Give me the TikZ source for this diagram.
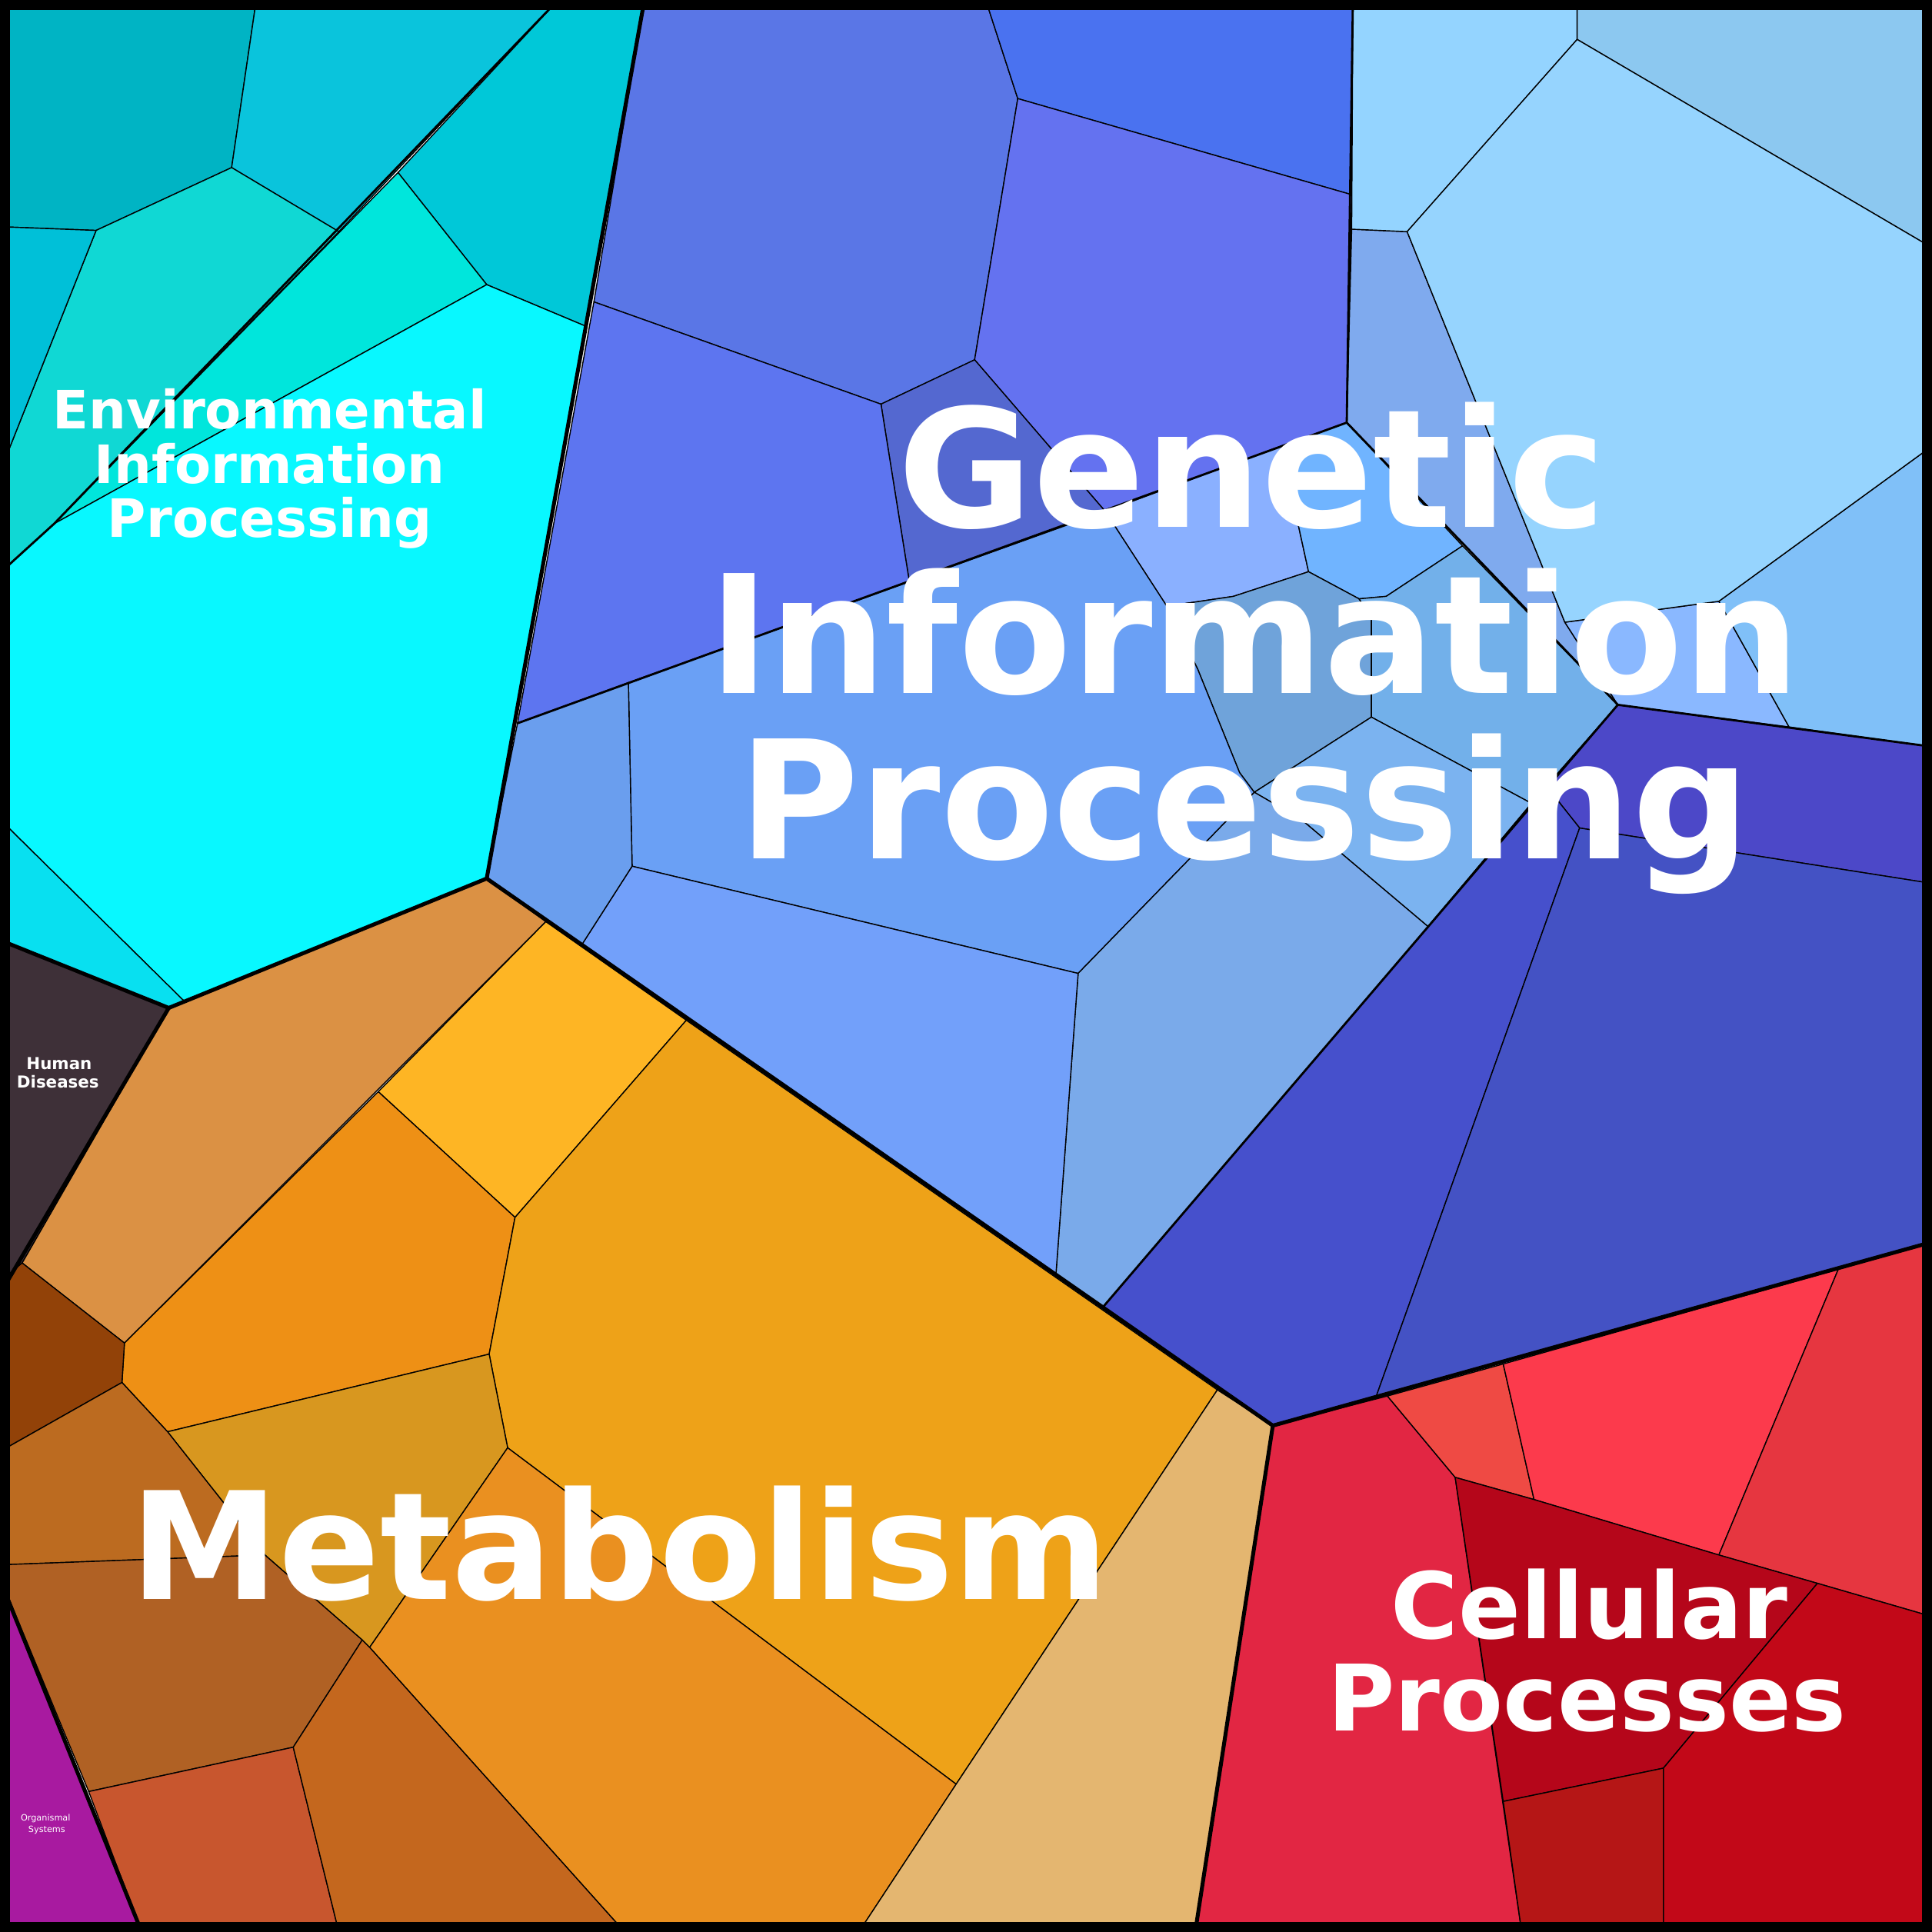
\documentclass[tikz,border=0pt]{standalone}
\usepackage{fontspec}
\setmainfont{DejaVu Sans}
\begin{document}
\begin{tikzpicture}[x=0.1cm,y=-0.1cm,
 cell/.style={draw=black,line width=2.5pt,line join=round},
 thick line/.style={draw=black,line width=9pt,line cap=round,line join=round},
 mid line/.style={draw=black,line width=5pt,line cap=round,line join=round},
 lab/.style={text=white,font=\bfseries,anchor=base,inner sep=0pt}]
\useasboundingbox (0,0) rectangle (1568,1568);
% Environmental
\filldraw[cell,fill={rgb,255:red,0;green,180;blue,196}] (0,0)--(208,0)--(188,136)--(78,187)--(0,184)--cycle;
\filldraw[cell,fill={rgb,255:red,10;green,196;blue,220}] (208,0)--(453,0)--(275,188)--(188,136)--cycle;
\filldraw[cell,fill={rgb,255:red,0;green,200;blue,216}] (453,0)--(523,0)--(476,265)--(395,231)--(323,140)--cycle;
\filldraw[cell,fill={rgb,255:red,0;green,230;blue,220}] (323,140)--(395,231)--(44,425)--cycle;
\filldraw[cell,fill={rgb,255:red,16;green,216;blue,212}] (78,187)--(188,136)--(275,188)--(44,425)--(0,465)--(0,383)--cycle;
\filldraw[cell,fill={rgb,255:red,0;green,192;blue,216}] (0,184)--(78,187)--(0,383)--cycle;
\filldraw[cell,fill={rgb,255:red,8;green,248;blue,255}] (395,231)--(476,265)--(395,713)--(152,815)--(0,665)--(0,465)--(44,425)--cycle;
\filldraw[cell,fill={rgb,255:red,8;green,224;blue,240}] (0,665)--(152,815)--(137,818)--(0,763)--cycle;
% Human diseases
\filldraw[cell,fill={rgb,255:red,62;green,48;blue,56}] (0,763)--(137,818)--(18,1025)--(0,1040)--cycle;
% Metabolism
\filldraw[cell,fill={rgb,255:red,219;green,145;blue,68}] (137,818)--(395,713)--(443,748)--(101,1090)--(18,1025)--cycle;
\filldraw[cell,fill={rgb,255:red,254;green,181;blue,36}] (443,748)--(557,828)--(418,988)--(307,886)--cycle;
\filldraw[cell,fill={rgb,255:red,238;green,144;blue,21}] (307,886)--(418,988)--(397,1099)--(136,1162)--(99,1122)--(101,1090)--cycle;
\filldraw[cell,fill={rgb,255:red,238;green,162;blue,24}] (557,828)--(988,1128)--(776,1448)--(412,1175)--(397,1099)--(418,988)--cycle;
\filldraw[cell,fill={rgb,255:red,216;green,151;blue,31}] (136,1162)--(397,1099)--(412,1175)--(300,1337)--(294,1331)--(215,1262)--cycle;
\filldraw[cell,fill={rgb,255:red,234;green,144;blue,32}] (412,1175)--(776,1448)--(697,1568)--(507,1568)--(300,1337)--cycle;
\filldraw[cell,fill={rgb,255:red,228;green,182;blue,112}] (988,1128)--(1033,1157)--(970,1568)--(697,1568)--(776,1448)--cycle;
\filldraw[cell,fill={rgb,255:red,146;green,66;blue,8}] (0,1040)--(18,1025)--(101,1090)--(99,1122)--(0,1178)--cycle;
\filldraw[cell,fill={rgb,255:red,188;green,107;blue,32}] (0,1178)--(99,1122)--(136,1162)--(215,1262)--(0,1270)--cycle;
\filldraw[cell,fill={rgb,255:red,176;green,97;blue,36}] (0,1270)--(215,1262)--(294,1331)--(238,1418)--(72,1454)--(0,1280)--cycle;
\filldraw[cell,fill={rgb,255:red,200;green,86;blue,46}] (72,1454)--(238,1418)--(275,1568)--(115,1568)--cycle;
\filldraw[cell,fill={rgb,255:red,196;green,103;blue,30}] (238,1418)--(294,1331)--(300,1337)--(507,1568)--(275,1568)--cycle;
\filldraw[cell,fill={rgb,255:red,168;green,26;blue,160}] (0,1280)--(115,1568)--(0,1568)--cycle;
% Genetic
\filldraw[cell,fill={rgb,255:red,90;green,118;blue,230}] (523,0)--(800,0)--(826,80)--(791,292)--(715,328)--(482,245)--cycle;
\filldraw[cell,fill={rgb,255:red,74;green,114;blue,240}] (800,0)--(1098,0)--(1097,158)--(826,80)--cycle;
\filldraw[cell,fill={rgb,255:red,100;green,114;blue,240}] (826,80)--(1097,158)--(1093,343)--(897,415)--(791,292)--cycle;
\filldraw[cell,fill={rgb,255:red,84;green,104;blue,208}] (715,328)--(791,292)--(897,415)--(738,472)--cycle;
\filldraw[cell,fill={rgb,255:red,93;green,117;blue,240}] (482,245)--(715,328)--(738,472)--(420,587)--cycle;
\filldraw[cell,fill={rgb,255:red,138;green,176;blue,255}] (897,415)--(1045,360)--(1053,423)--(1062,464)--(1001,484)--(947,492)--cycle;
\filldraw[cell,fill={rgb,255:red,112;green,180;blue,255}] (1045,360)--(1093,343)--(1187,443)--(1125,484)--(1103,486)--(1062,464)--(1053,423)--cycle;
\filldraw[cell,fill={rgb,255:red,111;green,163;blue,218}] (947,492)--(1001,484)--(1062,464)--(1103,486)--(1113,501)--(1113,582)--(1018,643)--(1006,627)--(972,543)--cycle;
\filldraw[cell,fill={rgb,255:red,114;green,176;blue,234}] (1103,486)--(1125,484)--(1187,443)--(1313,572)--(1243,652)--(1113,582)--(1113,501)--cycle;
\filldraw[cell,fill={rgb,255:red,123;green,179;blue,240}] (1018,643)--(1113,582)--(1243,652)--(1159,752)--(1056,665)--cycle;
\filldraw[cell,fill={rgb,255:red,106;green,160;blue,245}] (510,554)--(897,415)--(947,492)--(972,543)--(1006,627)--(1018,643)--(875,790)--(513,703)--cycle;
\filldraw[cell,fill={rgb,255:red,122;green,170;blue,234}] (875,790)--(1018,643)--(1056,665)--(1159,752)--(895,1061)--(857,1034)--cycle;
\filldraw[cell,fill={rgb,255:red,114;green,160;blue,250}] (472,767)--(513,703)--(875,790)--(857,1034)--cycle;
\filldraw[cell,fill={rgb,255:red,106;green,158;blue,238}] (420,587)--(510,554)--(513,703)--(472,767)--(395,713)--cycle;
\filldraw[cell,fill={rgb,255:red,127;green,170;blue,238}] (1097,186)--(1142,188)--(1270,505)--(1313,572)--(1093,343)--cycle;
\filldraw[cell,fill={rgb,255:red,138;green,184;blue,255}] (1270,505)--(1395,488)--(1452,590)--(1313,572)--cycle;
\filldraw[cell,fill={rgb,255:red,128;green,192;blue,248}] (1395,488)--(1568,362)--(1568,606)--(1452,590)--cycle;
\filldraw[cell,fill={rgb,255:red,148;green,212;blue,255}] (1098,0)--(1280,0)--(1280,32)--(1142,188)--(1097,186)--cycle;
\filldraw[cell,fill={rgb,255:red,140;green,200;blue,240}] (1280,0)--(1568,0)--(1568,201)--(1280,32)--cycle;
\filldraw[cell,fill={rgb,255:red,150;green,212;blue,254}] (1142,188)--(1280,32)--(1568,201)--(1568,362)--(1395,488)--(1270,505)--cycle;
\filldraw[cell,fill={rgb,255:red,76;green,72;blue,200}] (1313,572)--(1568,606)--(1568,717)--(1282,672)--(1255,638)--cycle;
\filldraw[cell,fill={rgb,255:red,70;green,80;blue,204}] (1255,638)--(1282,672)--(1117,1133)--(1033,1157)--(895,1061)--(1159,752)--(1243,652)--cycle;
\filldraw[cell,fill={rgb,255:red,68;green,82;blue,196}] (1282,672)--(1568,717)--(1568,1008)--(1117,1133)--cycle;
% Cellular
\filldraw[cell,fill={rgb,255:red,226;green,38;blue,67}] (1033,1157)--(1126,1133)--(1181,1199)--(1235,1568)--(970,1568)--cycle;
\filldraw[cell,fill={rgb,255:red,239;green,74;blue,68}] (1126,1133)--(1220,1107)--(1245,1217)--(1181,1199)--cycle;
\filldraw[cell,fill={rgb,255:red,252;green,58;blue,76}] (1220,1107)--(1492,1030)--(1395,1262)--(1245,1217)--cycle;
\filldraw[cell,fill={rgb,255:red,230;green,54;blue,64}] (1492,1030)--(1568,1008)--(1568,1312)--(1475,1285)--(1395,1262)--cycle;
\filldraw[cell,fill={rgb,255:red,181;green,6;blue,26}] (1181,1199)--(1245,1217)--(1395,1262)--(1475,1285)--(1350,1435)--(1220,1462)--cycle;
\filldraw[cell,fill={rgb,255:red,194;green,8;blue,24}] (1475,1285)--(1568,1312)--(1568,1568)--(1350,1568)--(1350,1435)--cycle;
\filldraw[cell,fill={rgb,255:red,181;green,22;blue,22}] (1220,1462)--(1350,1435)--(1350,1568)--(1235,1568)--cycle;
% group boundaries
\draw[mid line] (453,0)--(44,425)--(0,465);
\draw[mid line] (1098,0)--(1093,343)--(420,587);
\draw[mid line] (1093,343)--(1313,572)--(895,1061);
\draw[mid line] (1313,572)--(1568,606);
\draw[thick line] (523,0)--(395,713)--(137,818)--(0,763);
\draw[thick line] (137,818)--(0,1050);
\draw[thick line] (395,713)--(1033,1157)--(1568,1008);
\draw[thick line] (1033,1157)--(970,1568);
\draw[thick line] (0,1282)--(115,1568);
\draw[line width=22pt] (4,4) rectangle (1564,1564);
% labels
\node[lab,font=\bfseries\fontsize{122}{122}\selectfont] (e1) at (219,348) {Environmental};
\node[lab,font=\bfseries\fontsize{122}{122}\selectfont] (e2) at (219,392) {Information};
\node[lab,font=\bfseries\fontsize{122}{122}\selectfont] (e3) at (219,436) {Processing};
\node[lab,font=\bfseries\fontsize{380}{380}\selectfont] (g1) at (1016,428) {Genetic};
\node[lab,font=\bfseries\fontsize{380}{380}\selectfont] (g2) at (1018,563) {Information};
\node[lab,font=\bfseries\fontsize{380}{380}\selectfont] (g3) at (1010,697) {Processing};
\node[lab,font=\bfseries\fontsize{345}{345}\selectfont] (m) at (503,1298) {Metabolism};
\node[lab,font=\bfseries\fontsize{212}{212}\selectfont] (c1) at (1290,1330) {Cellular};
\node[lab,font=\bfseries\fontsize{212}{212}\selectfont] (c2) at (1288,1405) {Processes};
\node[lab,font=\bfseries\fontsize{38}{38}\selectfont] (h1) at (48,868) {Human};
\node[lab,font=\bfseries\fontsize{38}{38}\selectfont] (h2) at (47,883) {Diseases};
\node[lab,font=\fontsize{20}{20}\selectfont] (o1) at (37,1478) {Organismal};
\node[lab,font=\fontsize{20}{20}\selectfont] (o2) at (38,1487) {Systems};
\end{tikzpicture}
\end{document}
